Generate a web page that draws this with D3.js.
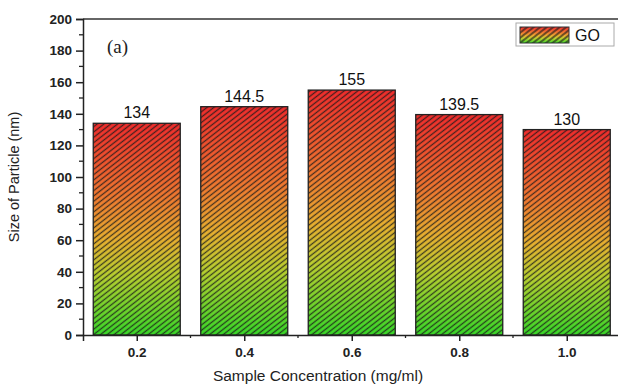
<!DOCTYPE html>
<html><head><meta charset="utf-8">
<script src="https://cdn.jsdelivr.net/npm/d3@7"></script>
<style>body{margin:0;background:#fff}svg{display:block}</style>
</head><body><svg id="c" width="618" height="385"></svg>
<script>
const categories = ["0.2","0.4","0.6","0.8","1.0"];
const xValues = [0.2,0.4,0.6,0.8,1.0];
const sizes = [134,144.5,155,139.5,130];
const labels = ["134","144.5","155","139.5","130"];
const yTicks = [0,20,40,60,80,100,120,140,160,180,200];
const seriesName = "GO";

const svg = d3.select("#c");
const m = {l:83, t:19, b:335, r:620.5};
const x = d3.scaleLinear().domain([0.1,1.1]).range([m.l, m.r]);
const y = d3.scaleLinear().domain([0,200]).range([m.b, m.t]);
const barW = 87;
const F = "Liberation Sans, Arial, sans-serif";

const defs = svg.append("defs");
const g = defs.append("linearGradient").attr("id","grad").attr("x1",0).attr("y1",0).attr("x2",0).attr("y2",1);
[[0,"#f02c2c"],[0.35,"#f07a30"],[0.55,"#e8b030"],[0.72,"#b8d030"],[1,"#38d828"]].forEach(s=>g.append("stop").attr("offset",s[0]).attr("stop-color",s[1]));
const pat = defs.append("pattern").attr("id","hatch").attr("patternUnits","userSpaceOnUse")
  .attr("width",4.2).attr("height",4.2).attr("patternTransform","rotate(-38)");
pat.append("line").attr("x1",0).attr("y1",2.1).attr("x2",4.2).attr("y2",2.1).attr("stroke","#1a1a1a").attr("stroke-width",1.3).attr("stroke-opacity",0.8);
const pat2 = defs.append("pattern").attr("id","hatch2").attr("patternUnits","userSpaceOnUse")
  .attr("width",4).attr("height",4).attr("patternTransform","rotate(-38)");
pat2.append("line").attr("x1",0).attr("y1",2).attr("x2",4).attr("y2",2).attr("stroke","#1a1a1a").attr("stroke-width",1.2);

// bars
const bars = svg.append("g");
bars.selectAll("rect.f").data(sizes).join("rect").attr("class","f")
  .attr("x",(d,i)=>x(xValues[i])-barW/2).attr("y",d=>y(d)).attr("width",barW).attr("height",d=>y(0)-y(d))
  .attr("fill","url(#grad)");
bars.selectAll("rect.h").data(sizes).join("rect").attr("class","h")
  .attr("x",(d,i)=>x(xValues[i])-barW/2).attr("y",d=>y(d)).attr("width",barW).attr("height",d=>y(0)-y(d))
  .attr("fill","url(#hatch)").attr("stroke","#222").attr("stroke-width",1.3);

bars.selectAll("text").data(labels).join("text")
  .attr("x",(d,i)=>x(xValues[i])).attr("y",(d,i)=>y(sizes[i])-5)
  .attr("text-anchor","middle").attr("font-family",F).attr("font-size",16).attr("fill","#111")
  .text(d=>d);

// frame top
svg.append("line").attr("x1",m.l).attr("x2",618).attr("y1",m.t).attr("y2",m.t).attr("stroke","#333").attr("stroke-width",1.5);

// y axis
const ya = svg.append("g").attr("transform",`translate(${m.l},0)`)
  .call(d3.axisLeft(y).tickValues(yTicks).tickSize(7).tickPadding(4));
ya.select(".domain").attr("stroke","#222").attr("stroke-width",1.5);
ya.selectAll(".tick line").attr("stroke","#222").attr("stroke-width",1.5);
ya.selectAll("text").attr("font-family",F).attr("font-size",13.5).attr("font-weight","bold").attr("fill","#222");
const yMinor = d3.range(10,200,20);
svg.append("g").selectAll("line").data(yMinor).join("line")
  .attr("x1",m.l-4).attr("x2",m.l).attr("y1",d=>y(d)).attr("y2",d=>y(d)).attr("stroke","#222").attr("stroke-width",1.3);

// x axis
const xa = svg.append("g").attr("transform",`translate(0,${m.b})`)
  .call(d3.axisBottom(x).tickValues(xValues).tickFormat((d,i)=>categories[i]).tickSize(6).tickPadding(6));
xa.select(".domain").attr("stroke","#222").attr("stroke-width",1.5);
xa.selectAll(".tick line").attr("stroke","#222").attr("stroke-width",1.5);
xa.selectAll("text").attr("font-family",F).attr("font-size",13.5).attr("font-weight","bold").attr("fill","#222");
const xMinor = [0.3,0.5,0.7,0.9];
svg.append("g").selectAll("line").data(xMinor).join("line")
  .attr("x1",d=>x(d)).attr("x2",d=>x(d)).attr("y1",m.b).attr("y2",m.b+3).attr("stroke","#222").attr("stroke-width",1.3);

// axis titles
svg.append("text").attr("transform",`translate(19,${(m.t+m.b)/2}) rotate(-90)`).attr("text-anchor","middle")
  .attr("font-family",F).attr("font-size",14.5).attr("fill","#222").text("Size of Particle (nm)");
svg.append("text").attr("x",318).attr("y",381).attr("text-anchor","middle")
  .attr("font-family",F).attr("font-size",15.5).attr("fill","#222").text("Sample Concentration (mg/ml)");

// (a)
svg.append("text").attr("x",107).attr("y",53).attr("font-family","Liberation Serif, Times New Roman, serif").attr("font-size",19).attr("fill","#222").text("(a)");

// legend
const lg = svg.append("g");
lg.append("rect").attr("x",516).attr("y",23).attr("width",98).attr("height",23).attr("fill","#fff").attr("stroke","#aaa").attr("stroke-width",1);
lg.append("rect").attr("x",520).attr("y",27).attr("width",49).attr("height",16).attr("fill","url(#grad)");
lg.append("rect").attr("x",520).attr("y",27).attr("width",49).attr("height",16).attr("fill","url(#hatch2)").attr("stroke","#333").attr("stroke-width",1);
lg.append("text").attr("x",575).attr("y",41).attr("font-family",F).attr("font-size",16).attr("fill","#111").text(seriesName);
</script></body></html>
